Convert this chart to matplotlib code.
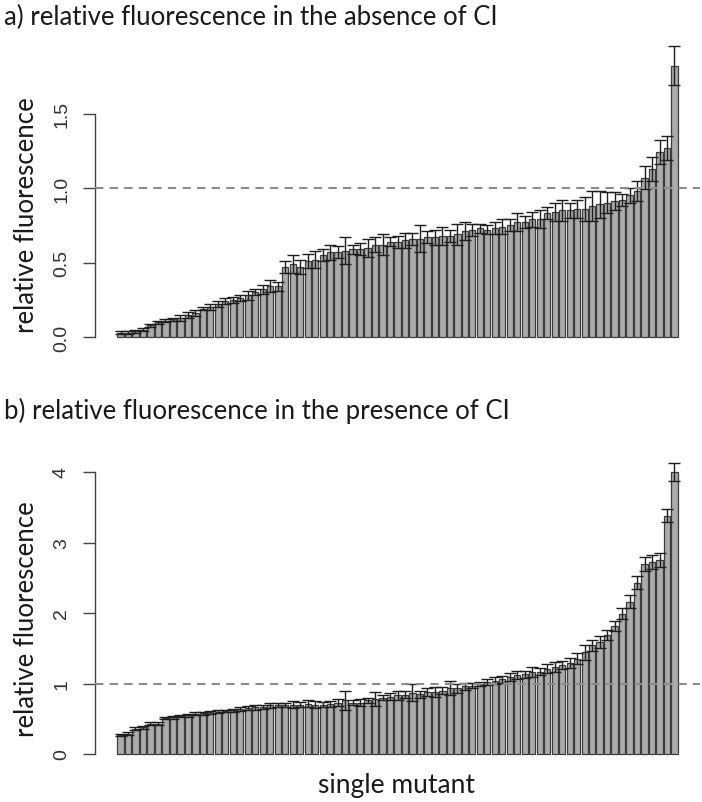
import matplotlib
matplotlib.use("Agg")
import matplotlib.pyplot as plt
import numpy as np

# ---------------- data ----------------
vals_a = [0.03, 0.03, 0.04, 0.05, 0.08, 0.10, 0.11, 0.12, 0.13, 0.15, 0.16, 0.19, 0.20, 0.22, 0.24,
          0.25, 0.26, 0.28, 0.30, 0.32, 0.34, 0.34,
          0.47, 0.49, 0.47, 0.51, 0.52, 0.55, 0.57, 0.57, 0.58, 0.59, 0.59, 0.60, 0.62, 0.62, 0.64,
          0.64, 0.65, 0.66, 0.66, 0.67, 0.67, 0.68, 0.68, 0.69, 0.71, 0.72, 0.73,
          0.72, 0.73, 0.74, 0.75, 0.77, 0.77, 0.79, 0.79, 0.83, 0.84, 0.85, 0.85, 0.86, 0.86, 0.88,
          0.89, 0.90, 0.91, 0.92, 0.95, 0.98, 1.07, 1.13, 1.24, 1.27, 1.82]
err_a = [0.01, 0.01, 0.01, 0.01, 0.01, 0.01, 0.01, 0.01, 0.02, 0.02, 0.02, 0.01, 0.02, 0.02, 0.02,
         0.02, 0.02, 0.03, 0.02, 0.03, 0.04, 0.03,
         0.04, 0.06, 0.05, 0.05, 0.06, 0.04, 0.05, 0.04, 0.09, 0.03, 0.04, 0.06, 0.05, 0.07, 0.03,
         0.04, 0.05, 0.04, 0.09, 0.04, 0.05, 0.06, 0.04, 0.07, 0.06, 0.04, 0.03,
         0.03, 0.04, 0.05, 0.04, 0.06, 0.04, 0.05, 0.06, 0.04, 0.06, 0.07, 0.05, 0.06, 0.08, 0.10,
         0.09, 0.07, 0.06, 0.04, 0.05, 0.07, 0.08, 0.08, 0.08, 0.08, 0.13]

vals_b = [0.27, 0.29, 0.36, 0.38, 0.43, 0.43, 0.51, 0.52, 0.54, 0.55, 0.57, 0.58, 0.59, 0.60, 0.61,
          0.62, 0.64, 0.65, 0.66, 0.67, 0.69, 0.69,
          0.70, 0.70, 0.70, 0.71, 0.70, 0.70, 0.71, 0.73, 0.76, 0.73, 0.73, 0.76, 0.78, 0.80, 0.81,
          0.83, 0.84, 0.87, 0.85, 0.88, 0.88, 0.90, 0.93, 0.93, 0.96, 0.97, 0.99,
          1.02, 1.04, 1.06, 1.09, 1.12, 1.13, 1.16, 1.17, 1.21, 1.23, 1.26, 1.29, 1.35, 1.44, 1.54,
          1.59, 1.69, 1.82, 1.99, 2.16, 2.43, 2.70, 2.72, 2.75, 3.38, 4.00]
err_b = [0.02, 0.02, 0.02, 0.02, 0.02, 0.02, 0.02, 0.02, 0.02, 0.02, 0.02, 0.02, 0.02, 0.02, 0.02,
         0.02, 0.03, 0.03, 0.03, 0.03, 0.04, 0.03,
         0.03, 0.05, 0.04, 0.05, 0.05, 0.04, 0.04, 0.05, 0.13, 0.04, 0.05, 0.04, 0.10, 0.04, 0.05,
         0.06, 0.05, 0.12, 0.05, 0.06, 0.07, 0.05, 0.10, 0.06, 0.05, 0.04, 0.03,
         0.04, 0.05, 0.05, 0.06, 0.06, 0.05, 0.07, 0.05, 0.06, 0.07, 0.06, 0.07, 0.08, 0.10, 0.08,
         0.09, 0.07, 0.07, 0.08, 0.09, 0.09, 0.10, 0.10, 0.10, 0.09, 0.13]

title_a = "a) relative fluorescence in the absence of CI"
title_b = "b) relative fluorescence in the presence of CI"
ylabel = "relative fluorescence"
xlabel = "single mutant"
ticks_a = [0.0, 0.5, 1.0, 1.5]
ticklabels_a = ["0.0", "0.5", "1.0", "1.5"]
ticks_b = [0, 1, 2, 3, 4]
ticklabels_b = ["0", "1", "2", "3", "4"]

# ---------------- layout ----------------
W, H = 702, 803
fig = plt.figure(figsize=(W / 100, H / 100), dpi=100)
fig.patch.set_facecolor("white")


def rect(l, t, r, b):
    return [l / W, 1 - b / H, (r - l) / W, (b - t) / H]


TXT = "Lato"
TICKF = "Liberation Sans"
BAR_FC = "#ababab"
BAR_EC = "#3c3c3c"


def panel(ax, vals, errs, ylim, ticks, ticklabels):
    n = len(vals)
    x = 0.7 + 1.2 * np.arange(n)
    ax.bar(x, vals, width=1.0, color=BAR_FC, edgecolor=BAR_EC, linewidth=0.9, zorder=2)
    ax.errorbar(x, vals, yerr=errs, fmt="none", ecolor="#1e1e1e", elinewidth=1.0,
                capsize=4, capthick=1.0, zorder=3, clip_on=False)
    ax.axhline(1.0, color="#8c8c8c", linestyle=(0, (4, 3)), linewidth=1.5, zorder=4)
    ax.set_xlim(0.2 - 0.04 * 89.8, 90.0 + 0.04 * 89.8)
    ax.set_ylim(*ylim)
    for s in ["top", "right", "bottom"]:
        ax.spines[s].set_visible(False)
    ax.spines["left"].set_bounds(ticks[0], ticks[-1])
    ax.spines["left"].set_color("#444444")
    ax.spines["left"].set_linewidth(1.0)
    ax.set_xticks([])
    ax.set_yticks(ticks)
    ax.set_yticklabels(ticklabels, rotation=90, va="center", family=TICKF, fontsize=14,
                       color="#333333")
    ax.tick_params(axis="y", length=9, width=1.0, color="#444444", pad=9)
    ax.set_facecolor("white")


ax1 = fig.add_axes(rect(95, 48, 700, 342))
panel(ax1, vals_a, err_a, ((338 - 342) / 149, (338 - 48) / 149), ticks_a, ticklabels_a)

ax2 = fig.add_axes(rect(95, 462, 700, 760))
panel(ax2, vals_b, err_b, ((755 - 760) / 70.5, (755 - 462) / 70.5), ticks_b, ticklabels_b)

FS = 18.5
fig.text(4 / W, 1 - 17 / H, title_a, family=TXT, fontsize=FS, va="center", ha="left",
         color="#1a1a1a")
fig.text(4 / W, 1 - 411 / H, title_b, family=TXT, fontsize=FS, va="center", ha="left",
         color="#1a1a1a")
fig.text(27 / W, 1 - 215 / H, ylabel, family=TXT, fontsize=FS, rotation=90, va="center",
         ha="center", color="#1a1a1a")
fig.text(27 / W, 1 - 619 / H, ylabel, family=TXT, fontsize=FS, rotation=90, va="center",
         ha="center", color="#1a1a1a")
fig.text(397 / W, 1 - 786 / H, xlabel, family=TXT, fontsize=19, va="center", ha="center",
         color="#1a1a1a")

fig.savefig("out.png", dpi=100, facecolor="white")
